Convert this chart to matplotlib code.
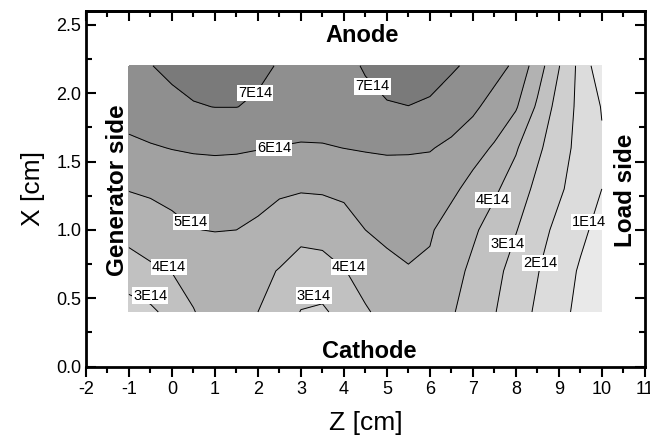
import numpy as np
import matplotlib
matplotlib.use("Agg")
import matplotlib.pyplot as plt

plt.rcParams['font.family'] = ['Liberation Sans', 'DejaVu Sans']
plt.rcParams['axes.unicode_minus'] = False

# Grid (Z along axis, X across gap) and field values in units of 1E14
z_pos = [-1, -0.5, 0, 0.5, 1, 1.5, 2, 2.5, 3, 3.5, 4, 4.5, 5, 5.5, 6, 6.5,
         7, 7.5, 8, 8.5, 9, 9.5, 10]
x_pos = [0.4, 0.7, 1.0, 1.3, 1.6, 1.9, 2.2]
row_04 = [2.5, 2.8, 3.35, 3.97, 4.3, 4.3, 4.0, 3.5, 2.97, 2.85, 3.35, 3.9,
          4.3, 4.45, 4.4, 4.1, 3.55, 3.05, 2.45, 1.85, 1.3, 0.75, 0.45]
row_07 = [3.67, 3.85, 4.03, 4.25, 4.4, 4.4, 4.25, 3.95, 3.5, 3.6, 3.95, 4.4,
          4.75, 4.95, 4.85, 4.35, 3.8, 3.3, 2.6, 2.05, 1.45, 0.9, 0.5]
row_10 = [4.25, 4.5, 4.75, 4.98, 5.03, 5.0, 4.85, 4.6, 4.35, 4.4, 4.7, 5.0,
          5.2, 5.25, 5.1, 4.6, 4.15, 3.6, 3.05, 2.35, 1.75, 1.2, 0.7]
row_13 = [5.05, 5.15, 5.28, 5.4, 5.48, 5.45, 5.3, 5.13, 5.07, 5.1, 5.15, 5.3,
          5.45, 5.5, 5.45, 5.2, 4.7, 4.15, 3.55, 2.75, 2.15, 1.55, 1.0]
row_16 = [5.8, 5.92, 6.03, 6.1, 6.12, 6.1, 6.04, 5.96, 5.9, 5.92, 6.01, 6.08,
          6.12, 6.1, 6.06, 5.8, 5.35, 4.9, 4.1, 3.2, 2.4, 1.7, 1.1]
row_19 = [6.4, 6.6, 6.82, 6.95, 7.01, 7.01, 6.9, 6.75, 6.6, 6.6, 6.7, 6.85,
          6.95, 6.99, 6.9, 6.55, 6.2, 5.6, 5.1, 3.85, 2.6, 1.75, 0.95]
row_22 = [6.75, 6.98, 7.15, 7.3, 7.35, 7.3, 7.15, 6.95, 6.8, 6.75, 6.85, 7.05,
          7.25, 7.35, 7.3, 7.12, 6.8, 6.4, 5.8, 4.5, 3.05, 1.7, 0.3]

levels = [0, 1, 2, 3, 4, 5, 6, 7, 8]
line_levels = [1, 2, 3, 4, 5, 6, 7]
band_colors = ['#e9e9e9', '#dcdcdc', '#cfcfcf', '#c1c1c1', '#b2b2b2',
               '#a1a1a1', '#8f8f8f', '#7a7a7a']

# contour label placements (level, z, x)
label_level = [7, 7, 6, 5, 4, 3, 4, 3, 4, 3, 2, 1]
label_z = [1.93, 4.67, 2.37, 0.44, -0.07, -0.51, 4.12, 3.3, 7.47, 7.8, 8.56, 9.7]
label_x = [2.0, 2.05, 1.6, 1.06, 0.73, 0.52, 0.73, 0.52, 1.22, 0.9, 0.76, 1.06]

F = np.array([row_04, row_07, row_10, row_13, row_16, row_19, row_22])
Zg, Xg = np.meshgrid(z_pos, x_pos)

fig = plt.figure(figsize=(6.5, 4.45), dpi=100)
ax = fig.add_axes([0.1323, 0.176, 0.8597, 0.799])

ax.contourf(Zg, Xg, F, levels=levels, colors=band_colors)
ax.contour(Zg, Xg, F, levels=line_levels, colors='black', linewidths=0.7)

for lv, zz, xx in zip(label_level, label_z, label_x):
    ax.text(zz, xx, f"{lv}E14", fontsize=10.5, ha='center', va='center',
            bbox=dict(facecolor='white', edgecolor='none', pad=0.8))

ax.set_xlim(-2, 11)
ax.set_ylim(0, 2.6)
ax.set_xticks(range(-2, 12))
ax.set_xticks(np.arange(-2, 11.01, 0.5), minor=True)
ax.set_yticks([0.0, 0.5, 1.0, 1.5, 2.0, 2.5])
ax.set_yticklabels(['0.0', '0.5', '1.0', '1.5', '2.0', '2.5'])
ax.set_yticks(np.arange(0, 2.6, 0.25), minor=True)

for s in ax.spines.values():
    s.set_linewidth(2)

ax.tick_params(axis='x', which='both', bottom=True, top=False, direction='out',
               labelsize=13, width=1.5, pad=3)
ax.tick_params(axis='y', which='both', left=True, right=True, direction='in',
               labelsize=13, width=1.5)
ax.tick_params(which='major', length=7)
ax.tick_params(which='minor', length=4)

sec = ax.secondary_xaxis('top')
sec.set_xticks(range(-2, 12))
sec.set_xticks(np.arange(-2, 11.01, 0.5), minor=True)
sec.tick_params(axis='x', which='both', direction='in', labeltop=False, width=1.5)
sec.tick_params(which='major', length=7)
sec.tick_params(which='minor', length=4)
sec.spines['top'].set_linewidth(2)

ax.set_xlabel('Z [cm]', fontsize=19, labelpad=10)
ax.set_ylabel('X [cm]', fontsize=19, labelpad=8)

ax.text(4.42, 2.42, 'Anode', fontsize=17, fontweight='bold', ha='center', va='center')
ax.text(4.58, 0.11, 'Cathode', fontsize=17, fontweight='bold', ha='center', va='center')
ax.text(-1.27, 1.29, 'Generator side', fontsize=17.5, fontweight='bold', ha='center',
        va='center', rotation=90)
ax.text(10.55, 1.29, 'Load side', fontsize=17.5, fontweight='bold', ha='center',
        va='center', rotation=90)

fig.savefig('out.png', dpi=100)
